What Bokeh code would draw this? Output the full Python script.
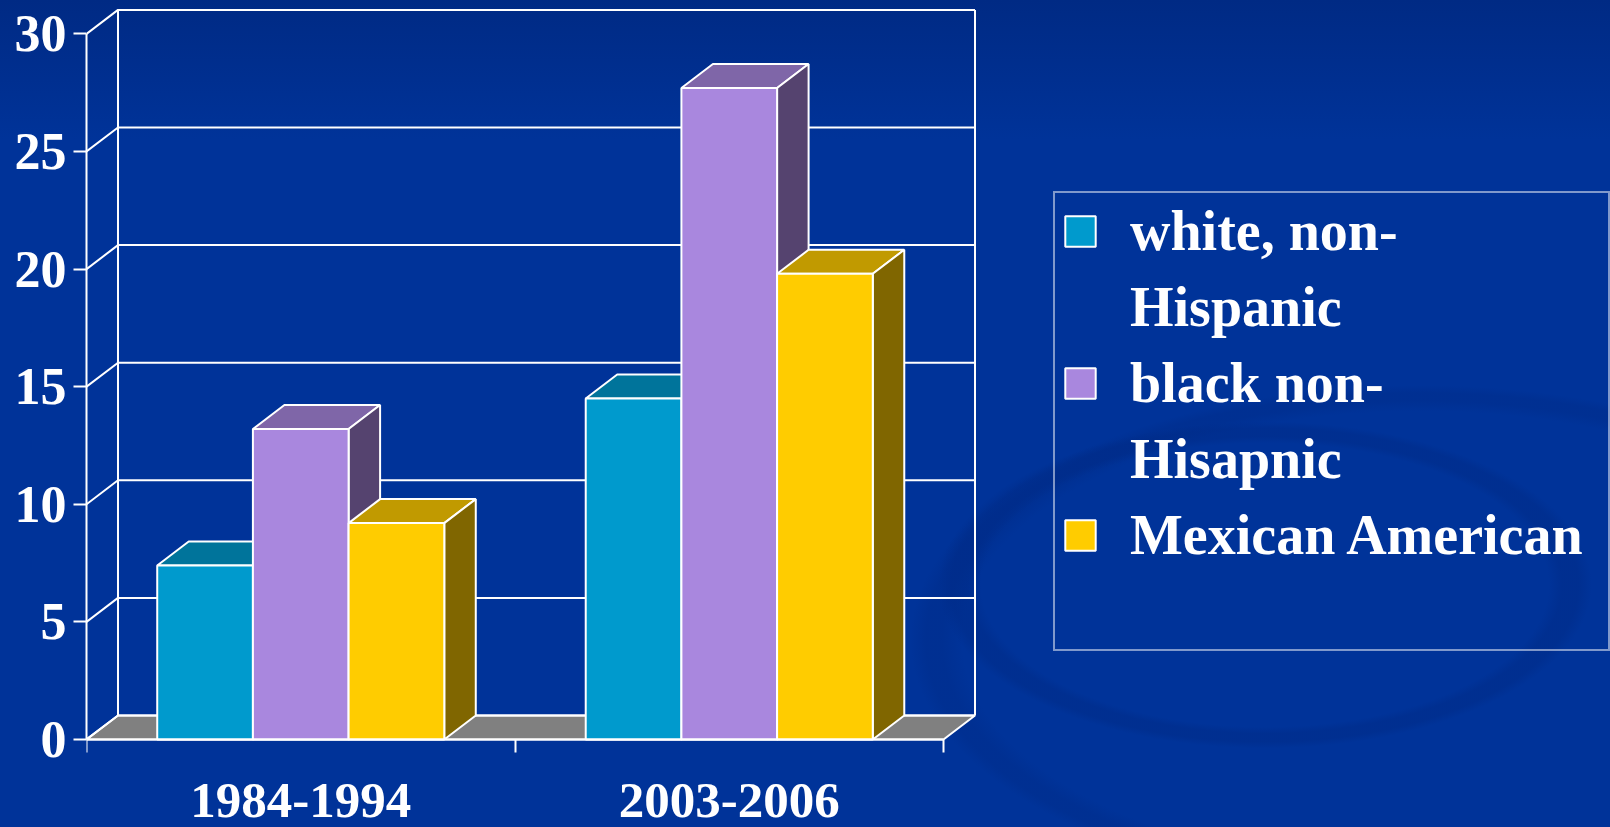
import numpy as np
from bokeh.plotting import figure
from bokeh.models import Range1d, FixedTicker, Legend, LegendItem, ColumnDataSource
from bokeh.embed import file_html
from bokeh.resources import INLINE

# ---------------- data ----------------
CATEGORIES = ["1984-1994", "2003-2006"]
SERIES = ["white, non-\nHispanic", "black non-\nHisapnic", "Mexican American"]
WHITE_NON_HISPANIC = [7.4, 14.5]
BLACK_NON_HISPANIC = [13.2, 27.7]
MEXICAN_AMERICAN = [9.2, 19.8]
Y_TICKS = [0, 5, 10, 15, 20, 25, 30]

VALUES = [WHITE_NON_HISPANIC, BLACK_NON_HISPANIC, MEXICAN_AMERICAN]
FRONT = ["#009ACD", "#A987DE", "#FFCC00"]
TOP = ["#00749B", "#7F66A8", "#C19A00"]
SIDE = ["#004D66", "#55436F", "#806600"]

FONT = "Liberation Serif"

# ---------------- layout (pixels) ----------------
W_FIG, H_FIG = 1610, 827
F_LEFT = 86            # front y axis position
ZERO_PX = 739          # pixel row of value 0
FRONT_W_PX = 857.0     # width of the front category span
PX_PER_UNIT_Y = 23.52
NCAT = len(CATEGORIES)
PX_PER_UNIT_X = FRONT_W_PX / NCAT
X_END = (W_FIG - F_LEFT) / PX_PER_UNIT_X
Y_END = ZERO_PX / PX_PER_UNIT_Y
Y_START = -(H_FIG - ZERO_PX) / PX_PER_UNIT_Y
DX = 31.5 / PX_PER_UNIT_X   # depth offset in x data units
DY = 24.0 / PX_PER_UNIT_Y   # depth offset in y data units
BAR_W = 0.2233
YMAX = Y_TICKS[-1]

p = figure(width=W_FIG, height=H_FIG, output_backend="svg", toolbar_location=None,
           x_range=Range1d(0, X_END), y_range=Range1d(Y_START, Y_END),
           min_border_left=F_LEFT, min_border_right=0,
           min_border_top=0, min_border_bottom=0)
p.background_fill_alpha = 0
p.border_fill_alpha = 0
p.outline_line_color = None
p.grid.visible = False

# floor
p.patch([0, NCAT, NCAT + DX, DX], [0, 0, DY, DY], fill_color="#808080",
        line_color="white", line_width=2)

# back wall grid lines with connectors to the front axis
p.multi_line(xs=[[0, DX, NCAT + DX] for v in Y_TICKS],
             ys=[[v, v + DY, v + DY] for v in Y_TICKS],
             line_color="white", line_width=2)
p.multi_line(xs=[[DX, DX], [NCAT + DX, NCAT + DX]],
             ys=[[DY, YMAX + DY], [DY, YMAX + DY]],
             line_color="white", line_width=2)

# bars
front_renderers = []
for s, vals in enumerate(VALUES):
    lefts = np.arange(NCAT) + 0.5 + (s - 1.5) * BAR_W
    rights = lefts + BAR_W
    tops = np.array(vals, dtype=float)
    top_xs = [[l, r, r + DX, l + DX] for l, r in zip(lefts, rights)]
    top_ys = [[t, t, t + DY, t + DY] for t in tops]
    side_xs = [[r, r + DX, r + DX, r] for r in rights]
    side_ys = [[0, DY, t + DY, t] for t in tops]
    p.patches(top_xs, top_ys, fill_color=TOP[s], line_color="white", line_width=2)
    p.patches(side_xs, side_ys, fill_color=SIDE[s], line_color="white", line_width=2)
    src = ColumnDataSource(dict(x=lefts + BAR_W / 2, top=tops))
    r = p.vbar(x="x", top="top", bottom=0, width=BAR_W, source=src,
               fill_color=FRONT[s], line_color="white", line_width=2)
    front_renderers.append(r)

# invisible renderer used for legend continuation lines (no swatch)
blank = p.vbar(x=[], top=[], width=BAR_W, fill_alpha=0, line_alpha=0)

# y axis
ya = p.yaxis[0]
ya.ticker = FixedTicker(ticks=Y_TICKS)
ya.bounds = (0, YMAX)
ya.axis_line_color = "white"
ya.axis_line_width = 2
ya.major_tick_line_color = "white"
ya.major_tick_line_width = 2
ya.major_tick_out = 13
ya.major_tick_in = 0
ya.minor_tick_line_color = None
ya.major_label_standoff = 7
ya.major_label_text_color = "white"
ya.major_label_text_font = FONT
ya.major_label_text_font_style = "bold"
ya.major_label_text_font_size = "52px"

# x axis (categories), drawn at value 0
xa = p.xaxis[0]
xa.ticker = FixedTicker(ticks=[i + 0.5 for i in range(NCAT)],
                        minor_ticks=list(range(NCAT + 1)))
xa.major_label_overrides = {i + 0.5: c for i, c in enumerate(CATEGORIES)}
xa.bounds = (0, NCAT)
xa.fixed_location = 0
xa.axis_line_color = "white"
xa.axis_line_width = 2
xa.major_tick_line_color = None
xa.major_tick_out = 0
xa.major_tick_in = 0
xa.minor_tick_line_color = "white"
xa.minor_tick_line_width = 2
xa.minor_tick_out = 13
xa.minor_tick_in = 0
xa.major_label_standoff = 31
xa.major_label_text_color = "white"
xa.major_label_text_font = FONT
xa.major_label_text_font_style = "bold"
xa.major_label_text_font_size = "51px"

# legend: one item per text line; swatch only on the first line of a series
items = []
for i, lab in enumerate(SERIES):
    for j, line in enumerate(lab.split("\n")):
        items.append(LegendItem(label=line,
                                renderers=[front_renderers[i] if j == 0 else blank]))
items.append(LegendItem(label=" ", renderers=[blank]))
legend = Legend(items=items, location=(967, 176))
legend.border_line_color = "white"
legend.border_line_width = 2
legend.background_fill_alpha = 0
legend.label_text_color = "white"
legend.label_text_font = FONT
legend.label_text_font_style = "bold"
legend.label_text_font_size = "56px"
legend.label_height = 64
legend.label_width = 472
legend.glyph_width = 38
legend.glyph_height = 38
legend.label_standoff = 31
legend.padding = 6
legend.spacing = 12
legend.margin = 0
p.add_layout(legend, "center")

html = file_html(p, INLINE)
style = ("<style>html,body{background-color:#003399;background-image:"
         "radial-gradient(ellipse 330px 165px at 1265px 585px, rgba(0,40,130,0) 86%, rgba(0,40,130,0.38) 90%, rgba(0,40,130,0.38) 95%, rgba(0,40,130,0) 99%),"
         "radial-gradient(ellipse 520px 260px at 1420px 640px, rgba(0,40,130,0) 88%, rgba(0,40,130,0.3) 92%, rgba(0,40,130,0.3) 95%, rgba(0,40,130,0) 98%),"
         "linear-gradient(to bottom,#002a84 0px,#003399 140px,#003399 100%);"
         "background-repeat:no-repeat;}</style>")
html = html.replace("</head>", style + "</head>", 1)
open("out.html", "w").write(html)
